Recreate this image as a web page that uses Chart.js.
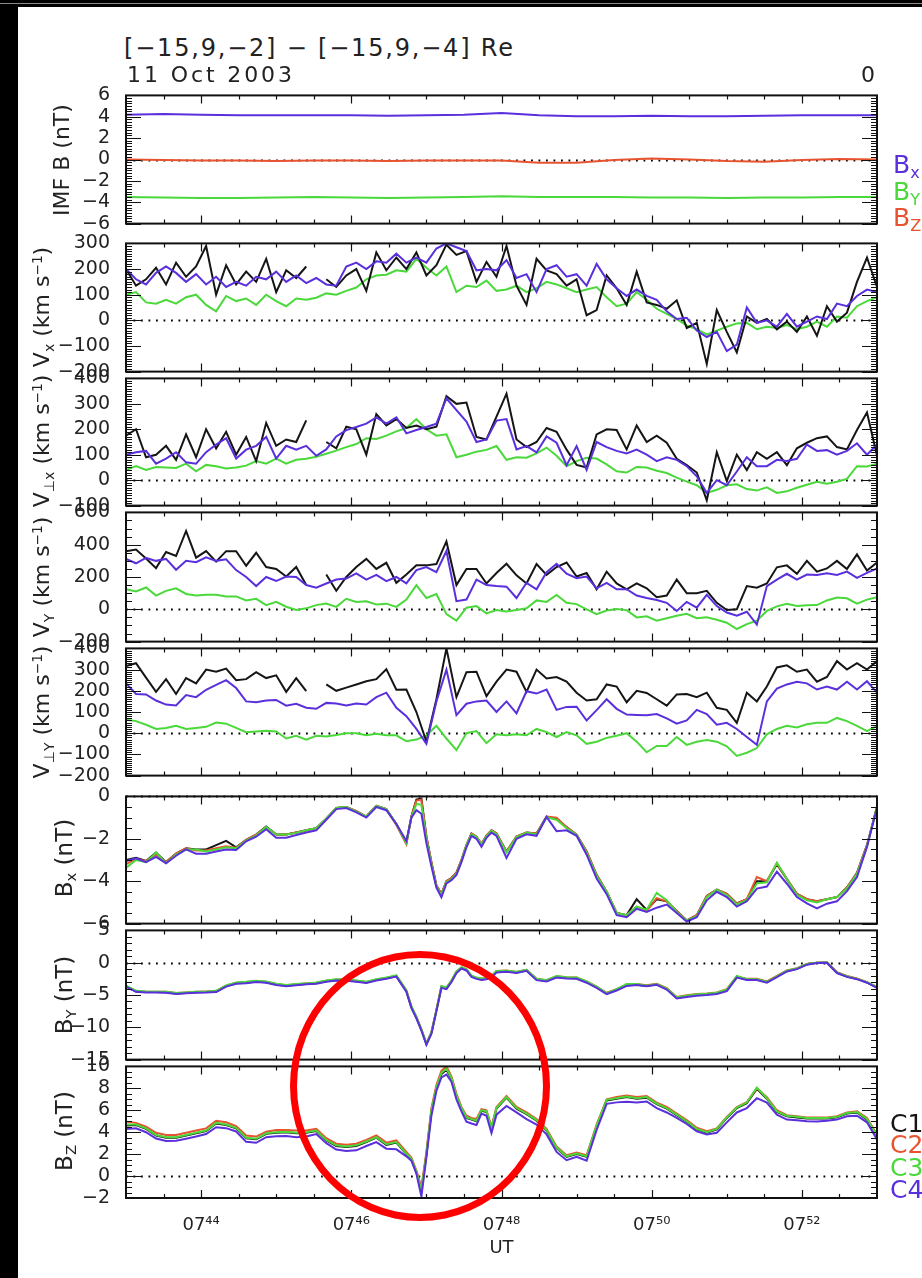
<!DOCTYPE html>
<html>
<head>
<meta charset="utf-8">
<title>Cluster V and B, 11 Oct 2003</title>
<script src="https://cdn.jsdelivr.net/npm/chart.js@4.4.1/dist/chart.umd.min.js"></script>
<style>
html,body{margin:0;padding:0;background:#fff;}
#page{position:relative;width:922px;height:1278px;overflow:hidden;background:#fff;font-family:"DejaVu Sans",sans-serif;color:#222;}
#page canvas{position:absolute;left:0;display:block;z-index:1;}
.t{position:absolute;white-space:nowrap;line-height:1;z-index:5;}
.yt{position:absolute;white-space:nowrap;line-height:1;font-size:22px;color:#222;z-index:5;transform:translate(-50%,-50%) rotate(-90deg);}
.yt sub,.t sub{font-size:64%;vertical-align:-0.32em;line-height:0;}
.yt sup{font-size:62%;vertical-align:0.55em;line-height:0;}
.blk{position:absolute;background:#000;z-index:6;}
#ring{position:absolute;box-sizing:border-box;border:7px solid #ff0000;border-radius:50%;z-index:7;}
</style>
</head>
<body>
<div id="page">
  <div class="blk" style="left:0;top:0;width:922px;height:7px;"></div>
  <div style="position:absolute;left:0;top:3px;width:922px;height:1px;background:#8a8a8a;z-index:7;"></div>
  <div class="blk" style="left:0;top:0;width:18px;height:1278px;"></div>

  <div class="t" style="left:124px;top:36px;font-size:24px;letter-spacing:1.8px;">[−15,9,−2] − [−15,9,−4] Re</div>
  <div class="t" style="left:127px;top:64px;font-size:22px;letter-spacing:2.9px;">11 Oct 2003</div>
  <div class="t" style="left:861px;top:64px;font-size:22px;">0</div>

  <div class="yt" style="left:62px;top:160px;">IMF B (nT)</div>
  <div class="yt" style="left:42px;top:307px;">V<sub>x</sub> (km s<sup>−1</sup>)</div>
  <div class="yt" style="left:42px;top:441px;">V<sub>⊥x</sub> (km s<sup>−1</sup>)</div>
  <div class="yt" style="left:42px;top:577px;">V<sub>Y</sub> (km s<sup>−1</sup>)</div>
  <div class="yt" style="left:42px;top:712px;">V<sub>⊥Y</sub> (km s<sup>−1</sup>)</div>
  <div class="yt" style="left:64px;top:858px;font-size:23px;">B<sub>x</sub> (nT)</div>
  <div class="yt" style="left:64px;top:995px;font-size:23px;">B<sub>Y</sub> (nT)</div>
  <div class="yt" style="left:64px;top:1131px;font-size:23px;">B<sub>Z</sub> (nT)</div>

  <div class="t" style="left:893px;top:152px;font-size:25px;color:#5a2fdc;">B<sub>x</sub></div>
  <div class="t" style="left:893px;top:179px;font-size:25px;color:#4ad83a;">B<sub>Y</sub></div>
  <div class="t" style="left:893px;top:205px;font-size:25px;color:#e8532f;">B<sub>Z</sub></div>

  <div class="t" style="left:890px;top:1111px;font-size:25px;color:#151515;">C1</div>
  <div class="t" style="left:890px;top:1132px;font-size:25px;color:#e8532f;">C2</div>
  <div class="t" style="left:890px;top:1155px;font-size:25px;color:#4ad83a;">C3</div>
  <div class="t" style="left:890px;top:1177px;font-size:25px;color:#5a2fdc;">C4</div>

  <div id="ring" style="left:290px;top:951px;width:260px;height:270px;"></div>
</div>
<script>
// ---------------- time axes (seconds after 07:43:00 UT) ----------------
const tIMF = [0,30,60,90,120,150,180,210,240,270,300,330,360,390,420,450,480,510,540,570,600];
const tV = [0,8,16,24,32,40,48,56,64,72,
  80,88,96,104,112,120,128,136,144,152,
  160,168,176,184,192,200,208,216,224,232,
  240,248,256,264,272,280,288,296,304,312,
  320,328,336,344,352,360,368,376,384,392,
  400,408,416,424,432,440,448,456,464,472,
  480,488,496,504,512,520,528,536,544,552,
  560,568,576,584,592,600];
const tB = [0,8,16,24,32,40,48,56,64,72,80,88,96,104,112,120,128,136,144,152,160,168,176,184,192,200,208,216,224,
  228,232,236,240,244,248,252,256,260,264,268,272,276,280,284,288,292,296,
  304,312,320,328,336,344,352,360,368,376,384,392,400,408,416,424,432,440,448,456,464,472,480,488,496,504,512,520,528,536,544,552,560,568,576,584,592,600];

// ---------------- tick labels ----------------
const xTickSec = [60,180,300,420,540];
const xTickLabels = ['07\u2074\u2074','07\u2074\u2076','07\u2074\u2078','07\u2075\u2070','07\u2075\u00B2'];
const imfTicks = [-6,-4,-2,0,2,4,6];
const vxTicks = [-200,-100,0,100,200,300];
const vpxTicks = [-100,0,100,200,300,400];
const vyTicks = [-200,0,200,400,600];
const vpyTicks = [-200,-100,0,100,200,300,400];
const bxTicks = [-6,-4,-2,0];
const byTicks = [-15,-10,-5,0,5];
const bzTicks = [-2,0,2,4,6,8,10];

// ---------------- IMF B (nT) ----------------
const imfBx = [4.2,4.25,4.2,4.15,4.15,4.15,4.15,4.1,4.15,4.2,4.35,4.15,4.05,4.05,4.1,4.05,4.05,4.1,4.15,4.15,4.15];
const imfBy = [-3.5,-3.55,-3.6,-3.6,-3.55,-3.5,-3.55,-3.6,-3.55,-3.5,-3.45,-3.5,-3.5,-3.5,-3.55,-3.55,-3.6,-3.55,-3.55,-3.5,-3.5];
const imfBz = [0,-0.05,-0.1,-0.1,-0.15,-0.1,-0.1,-0.15,-0.1,-0.1,-0.1,-0.3,-0.3,-0.05,0.1,0,-0.15,-0.2,-0.05,0.05,0];

// ---------------- Vx (km/s) ----------------
const vxBlack = [200,135,160,205,140,225,170,210,290,100,
  215,140,190,150,240,110,195,165,210,null,
  160,130,175,200,115,265,195,245,200,265,
  175,215,295,255,270,150,228,170,290,135,
  60,240,195,180,135,160,20,40,175,125,
  60,190,70,60,45,78,-30,-10,-170,40,
  -45,-125,15,-10,5,-35,-5,-45,15,-60,
  55,-5,30,150,245,130];
const vxPurple = [200,160,140,185,210,185,150,180,140,170,
  130,150,135,170,160,190,150,175,145,165,
  140,135,210,225,200,230,225,260,225,245,
  225,280,300,285,270,195,200,195,235,165,
  180,110,200,215,170,180,135,220,160,125,
  95,120,95,80,35,5,10,-40,-65,-45,
  -120,-95,50,-10,0,-25,25,-25,-5,15,
  5,65,55,95,120,110];
const vxGreen = [100,110,70,65,80,65,90,100,60,35,
  95,75,85,60,100,75,55,85,80,88,
  105,100,115,128,160,175,178,195,190,240,
  205,175,210,110,135,130,155,115,120,135,
  110,125,150,140,125,110,120,130,90,55,
  65,110,80,45,25,5,-20,-35,-55,-40,
  -25,-12,-10,-35,-25,-30,-18,-35,-25,-5,
  -25,15,10,55,75,90];

// ---------------- V perp x (km/s) ----------------
const vpxBlack = [175,200,90,100,135,80,180,90,200,125,
  190,100,170,75,225,135,160,150,235,null,
  150,125,210,200,100,260,215,240,205,215,
  200,210,330,300,305,170,160,250,340,160,
  130,150,205,190,120,60,50,180,200,197,
  121,215,150,175,147,84,59,30,-79,110,
  -4,100,40,110,84,110,59,125,147,165,
  172,130,121,197,266,96];
const vpxPurple = [100,110,115,65,85,110,70,65,110,140,
  165,85,120,135,170,85,135,120,135,96,
  121,172,197,209,222,247,222,247,184,197,
  209,222,322,275,230,150,160,234,240,121,
  134,109,172,147,59,134,40,150,130,115,
  105,120,100,75,90,80,55,15,-50,0,
  -20,34,90,55,55,80,75,84,140,115,
  118,100,115,145,100,140];
const vpxGreen = [40,55,40,52,50,48,65,35,60,55,
  46,50,57,75,65,85,65,80,84,92,
  104,116,130,142,165,162,175,192,205,240,
  200,175,180,90,100,112,119,134,80,90,
  88,105,128,96,55,75,88,85,62,35,
  30,52,50,37,28,10,-6,-20,-50,-38,
  -20,-16,-35,-41,-28,-50,-44,-30,-18,-6,
  -14,-6,5,55,54,65];

// ---------------- Vy (km/s) ----------------
const vyBlack = [360,370,315,255,355,330,485,320,360,295,
  360,360,270,350,262,250,203,262,150,null,
  215,115,200,262,312,250,288,164,215,272,
  272,280,420,150,250,250,160,225,282,210,
  160,280,213,262,290,203,225,124,233,160,
  124,160,130,75,85,184,100,100,114,40,
  -4,0,144,134,160,260,272,220,300,233,
  253,300,250,340,240,290];
const vyPurple = [312,285,318,300,312,245,300,292,322,300,
  310,243,200,144,200,175,203,200,150,134,
  160,184,190,223,184,213,174,200,160,243,
  262,230,361,50,60,184,150,144,140,70,
  164,124,230,282,220,193,203,130,164,124,
  124,85,70,58,40,-10,46,10,90,20,
  -20,-40,-15,-95,144,184,220,184,215,213,
  223,213,233,195,225,253];
const vyGreen = [124,110,135,85,114,130,95,85,90,90,
  80,80,55,65,26,46,16,-4,6,26,
  36,15,65,45,50,30,35,15,60,150,
  70,95,-30,-70,10,20,-25,-4,-14,-4,
  6,55,46,89,40,32,0,-30,-8,2,
  -5,-50,-43,-70,-55,-40,-28,-55,-50,-65,
  -83,-122,-92,-70,-10,18,34,20,25,26,
  55,73,68,35,60,75];

// ---------------- V perp y (km/s) ----------------
const vpyBlack = [317,330,262,195,255,185,260,235,300,290,
  305,250,255,288,260,273,195,260,198,null,
  230,200,215,230,245,255,302,205,206,100,
  -40,160,400,170,288,290,175,243,300,290,
  195,300,258,265,243,191,154,160,230,220,
  146,200,190,160,130,183,185,170,191,120,
  110,49,191,150,220,310,320,290,300,243,
  265,340,300,330,300,340];
const vpyPurple = [235,185,183,154,135,131,180,170,205,228,
  250,213,150,146,154,157,130,139,120,115,
  143,140,131,140,135,170,191,120,80,20,
  -50,150,300,85,139,150,154,100,150,94,
  198,187,206,110,124,125,60,109,160,115,
  88,86,85,90,70,45,60,110,90,40,
  49,20,-18,-55,150,210,230,243,235,206,
  220,206,243,206,245,191];
const vpyGreen = [64,57,40,20,25,35,20,25,30,50,
  45,25,5,8,12,8,-25,-12,-30,-12,
  -16,-8,0,0,-10,-3,-10,-10,-38,-30,
  -10,35,-25,-80,0,10,-47,-5,-10,-5,
  -10,20,5,-18,5,-10,-50,-40,-22,-12,
  0,-40,-90,-60,-60,-18,-55,-40,-32,-40,
  -62,-107,-92,-70,-5,20,35,27,42,49,
  49,72,57,35,10,35];

// ---------------- Bx (nT), C1..C4 ----------------
const bxC1 = [-3.0,-2.9,-3.05,-2.65,-3.1,-2.7,-2.45,-2.5,-2.5,-2.3,-2.1,-2.4,-2.05,-1.8,-1.42,-1.8,-1.8,-1.7,-1.6,-1.5,-1.05,-0.55,-0.5,-0.7,-0.95,-0.45,-0.6,-1.3,-2.2,
  -0.95,-0.15,-0.1,-1.9,-3.1,-4.2,-4.6,-4.0,-3.85,-3.6,-3.0,-2.3,-1.75,-1.9,-2.25,-1.85,-1.6,-1.75,
  -2.6,-1.9,-1.7,-1.75,-0.95,-1.05,-1.45,-1.8,-2.6,-3.7,-4.5,-5.5,-5.6,-4.85,-5.35,-4.85,-4.95,-5.4,-5.85,-5.6,-4.7,-4.4,-4.6,-5.05,-4.85,-4.0,-4.0,-3.2,-3.9,-4.6,-4.85,-4.95,-4.85,-4.75,-4.3,-3.6,-2.3,-0.5];
const bxC2 = [-3.2,-2.95,-3.05,-2.75,-3.1,-2.7,-2.45,-2.55,-2.55,-2.45,-2.35,-2.42,-2.05,-1.8,-1.45,-1.8,-1.8,-1.7,-1.6,-1.5,-1.05,-0.55,-0.5,-0.7,-0.95,-0.45,-0.6,-1.35,-2.25,
  -0.95,-0.2,-0.15,-1.9,-3.1,-4.2,-4.6,-4.0,-3.85,-3.6,-3.0,-2.3,-1.75,-1.9,-2.25,-1.85,-1.6,-1.75,
  -2.6,-1.9,-1.7,-1.75,-0.95,-1.0,-1.45,-1.8,-2.6,-3.7,-4.5,-5.5,-5.6,-5.2,-5.4,-4.8,-4.95,-5.4,-5.85,-5.6,-4.7,-4.4,-4.6,-5.05,-4.85,-3.8,-4.0,-3.15,-3.9,-4.6,-4.85,-4.95,-4.85,-4.75,-4.3,-3.6,-2.3,-0.5];
const bxC3 = [-3.37,-3.0,-3.1,-2.65,-3.15,-2.75,-2.5,-2.5,-2.6,-2.5,-2.4,-2.45,-2.08,-1.85,-1.45,-1.8,-1.8,-1.72,-1.6,-1.5,-1.05,-0.55,-0.5,-0.72,-0.95,-0.45,-0.6,-1.3,-2.2,
  -1.0,-0.35,-0.4,-2.0,-3.2,-4.25,-4.65,-4.05,-3.9,-3.65,-3.05,-2.3,-1.78,-1.92,-2.28,-1.88,-1.62,-1.78,
  -2.65,-1.92,-1.72,-1.78,-0.98,-1.1,-1.5,-1.82,-2.65,-3.75,-4.5,-5.5,-5.6,-5.2,-5.35,-4.55,-4.9,-5.45,-5.85,-5.65,-4.75,-4.4,-4.65,-5.1,-4.9,-4.1,-4.05,-3.13,-3.9,-4.65,-4.9,-5.0,-4.85,-4.75,-4.35,-3.65,-2.35,-0.45];
const bxC4 = [-3.05,-2.92,-3.1,-2.85,-3.15,-2.8,-2.5,-2.7,-2.7,-2.6,-2.5,-2.53,-2.12,-1.9,-1.55,-1.95,-1.95,-1.82,-1.7,-1.6,-1.1,-0.6,-0.55,-0.75,-1.0,-0.5,-0.65,-1.3,-2.1,
  -1.0,-0.65,-0.82,-2.2,-3.3,-4.3,-4.76,-4.1,-3.95,-3.7,-3.1,-2.4,-1.86,-2.0,-2.38,-1.95,-1.71,-1.86,
  -2.9,-2.0,-1.79,-1.86,-0.97,-1.64,-1.6,-1.86,-2.75,-3.87,-4.61,-5.6,-5.7,-5.3,-5.45,-5.25,-5.1,-5.5,-5.9,-5.7,-4.9,-4.5,-4.75,-5.2,-4.95,-4.35,-4.25,-3.55,-4.12,-4.75,-5.05,-5.28,-5.06,-4.95,-4.47,-3.8,-2.38,-0.52];

// ---------------- By (nT), C1..C4 ----------------
const byC1 = [-3.65,-4.45,-4.55,-4.55,-4.58,-4.78,-4.68,-4.58,-4.55,-4.48,-3.62,-3.18,-3.1,-2.92,-3.02,-3.38,-3.58,-3.42,-3.28,-3.18,-2.88,-2.68,-2.72,-2.88,-3.08,-2.68,-2.42,-2.08,-4.4,
  -6.9,-8.5,-10.4,-12.6,-10.9,-7.4,-3.8,-4.0,-2.9,-1.5,-0.85,-1.1,-2.1,-2.4,-2.6,-2.45,-2.2,-1.4,
  -1.3,-1.5,-1.2,-2.6,-2.8,-2.2,-2.35,-2.4,-3.0,-3.8,-4.75,-4.2,-3.5,-3.4,-3.6,-3.35,-4.05,-5.45,-5.2,-5.0,-4.9,-4.75,-4.3,-2.2,-2.6,-2.6,-3.0,-2.15,-1.3,-0.95,-0.25,0.0,0.0,-1.55,-2.15,-2.5,-3.05,-3.85];
const byC2 = [-3.6,-4.4,-4.5,-4.5,-4.5,-4.7,-4.6,-4.5,-4.45,-4.4,-3.55,-3.1,-3.0,-2.85,-2.95,-3.3,-3.5,-3.35,-3.2,-3.1,-2.8,-2.6,-2.65,-2.8,-3.0,-2.6,-2.35,-2.0,-4.3,
  -6.8,-8.4,-10.3,-12.5,-10.8,-7.3,-3.7,-3.9,-2.8,-1.4,-0.75,-1.05,-2.05,-2.35,-2.5,-2.4,-2.1,-1.3,
  -1.2,-1.45,-1.1,-2.5,-2.7,-2.1,-2.25,-2.3,-2.9,-3.7,-4.65,-4.1,-3.4,-3.3,-3.5,-3.25,-3.95,-5.3,-5.05,-4.85,-4.75,-4.6,-4.1,-2.1,-2.5,-2.5,-2.9,-2.05,-1.2,-0.85,-0.2,0.0,0.05,-1.45,-2.05,-2.45,-3.0,-3.8];
const byC3 = [-3.55,-4.35,-4.45,-4.5,-4.5,-4.7,-4.6,-4.5,-4.45,-4.35,-3.5,-3.05,-2.95,-2.8,-2.9,-3.25,-3.45,-3.3,-3.2,-3.05,-2.75,-2.55,-2.6,-2.75,-2.95,-2.55,-2.3,-1.95,-4.25,
  -6.75,-8.35,-10.3,-12.5,-10.8,-7.3,-3.6,-3.85,-2.75,-1.35,-0.7,-1.0,-2.0,-2.3,-2.45,-2.35,-2.05,-1.3,
  -1.25,-1.4,-1.1,-2.5,-2.7,-2.05,-2.25,-2.3,-2.9,-3.7,-4.7,-4.1,-3.3,-3.3,-3.55,-3.3,-4.0,-5.35,-5.1,-4.9,-4.8,-4.65,-4.15,-2.05,-2.55,-2.55,-2.95,-2.1,-1.25,-0.9,-0.2,0.0,0.05,-1.5,-2.1,-2.5,-3.0,-3.75];
const byC4 = [-3.7,-4.5,-4.6,-4.62,-4.64,-4.85,-4.74,-4.65,-4.62,-4.55,-3.7,-3.25,-3.17,-3.0,-3.1,-3.45,-3.65,-3.5,-3.35,-3.25,-2.95,-2.75,-2.8,-2.95,-3.15,-2.75,-2.5,-2.15,-4.5,
  -7.0,-8.6,-10.5,-12.7,-11.0,-7.5,-3.9,-4.1,-3.0,-1.6,-0.9,-1.2,-2.2,-2.5,-2.68,-2.55,-2.3,-1.5,
  -1.4,-1.6,-1.25,-2.7,-2.9,-2.3,-2.45,-2.5,-3.1,-3.9,-4.85,-4.3,-3.6,-3.45,-3.66,-3.42,-4.15,-5.55,-5.3,-5.1,-5.0,-4.85,-4.4,-2.3,-2.68,-2.68,-3.1,-2.25,-1.35,-1.0,-0.3,-0.05,0.0,-1.6,-2.2,-2.55,-3.1,-3.9];

// ---------------- Bz (nT), C1..C4 ----------------
const bzC1 = [4.6,4.65,4.3,3.7,3.5,3.5,3.7,3.9,4.1,4.8,4.65,4.35,3.45,3.35,3.85,3.95,4.0,3.9,3.95,4.1,3.25,2.75,2.65,2.75,3.1,3.5,2.85,3.05,2.0,
  1.55,0.35,-1.4,1.95,5.95,8.0,9.3,9.7,8.9,7.3,6.15,5.3,5.15,5.0,5.95,5.85,4.35,6.15,
  7.15,6.15,5.65,5.05,4.15,2.55,1.75,2.0,1.75,4.55,6.9,7.05,7.2,7.05,7.15,6.55,6.15,5.55,4.95,4.25,3.95,4.25,5.3,6.2,6.65,7.95,7.05,5.85,5.45,5.35,5.25,5.25,5.25,5.35,5.7,5.8,5.15,3.65];
const bzC2 = [4.95,4.85,4.5,3.95,3.75,3.75,3.95,4.15,4.35,5.05,4.9,4.55,3.7,3.6,4.05,4.2,4.2,4.15,4.15,4.3,3.45,2.95,2.85,2.95,3.3,3.7,3.05,3.25,2.2,
  1.7,0.5,-1.0,2.2,6.2,8.3,9.6,10.0,9.1,7.5,6.3,5.5,5.3,5.2,6.1,6.0,4.5,6.3,
  7.3,6.3,5.8,5.2,4.3,2.7,1.9,2.15,1.9,4.7,7.0,7.2,7.35,7.2,7.3,6.7,6.3,5.7,5.1,4.4,4.1,4.35,5.4,6.3,6.75,8.0,7.2,6.0,5.55,5.45,5.35,5.35,5.35,5.45,5.8,5.9,5.3,3.8];
const bzC3 = [4.7,4.7,4.35,3.75,3.55,3.55,3.75,3.95,4.15,4.85,4.7,4.4,3.5,3.4,3.9,4.0,4.05,3.95,4.0,4.15,3.3,2.8,2.7,2.8,3.15,3.55,2.9,3.1,2.05,
  1.6,0.4,-1.3,2.0,6.0,8.1,9.4,9.8,8.95,7.35,6.2,5.35,5.2,5.05,6.0,5.9,4.4,6.2,
  7.2,6.2,5.7,5.1,4.2,2.6,1.8,2.05,1.8,4.6,6.95,7.1,7.25,7.1,7.2,6.6,6.2,5.6,5.0,4.3,4.0,4.3,5.35,6.25,6.7,8.07,7.1,5.9,5.5,5.4,5.3,5.3,5.3,5.4,5.75,5.85,5.2,3.7];
const bzC4 = [4.3,4.35,4.0,3.42,3.2,3.22,3.4,3.6,3.83,4.45,4.37,4.07,3.12,3.03,3.54,3.63,3.65,3.55,3.6,3.83,3.0,2.42,2.29,2.35,2.74,3.1,2.5,2.44,1.8,
  1.4,0.22,-1.86,1.7,5.5,7.77,9.0,9.26,8.6,7.0,5.9,4.96,4.8,4.66,5.7,5.5,3.92,5.6,
  6.4,5.8,5.2,4.7,3.8,2.2,1.45,1.75,1.4,4.2,6.59,6.72,6.78,6.7,6.8,6.2,5.8,5.3,4.75,4.07,3.8,3.95,4.9,5.8,6.2,7.1,6.7,5.6,5.15,5.1,5.0,4.98,5.05,5.15,5.45,5.5,4.9,3.33];

// ---------------- drawing ----------------
Chart.defaults.font.family = "'DejaVu Sans', sans-serif";
Chart.defaults.color = '#222';

const COL = {black:'#151515', purple:'#5a2fdc', green:'#4ad83a', red:'#e8532f'};
const PAD = 16;
const XAXIS_H = 75;

function fmtNum(v) { return v < 0 ? '\u2212' + Math.abs(v) : String(v); }

const frameTicks = {
  id: 'frameTicks',
  beforeDatasetsDraw(chart, args, o) {
    const {ctx, chartArea: a, scales: {y}} = chart;
    const py = Math.round(y.getPixelForValue(0)) + 0.5;
    ctx.save();
    ctx.strokeStyle = '#000';
    ctx.lineWidth = 1.8;
    ctx.setLineDash([1.8, 5.7]);
    ctx.beginPath(); ctx.moveTo(a.left, py); ctx.lineTo(a.right, py); ctx.stroke();
    ctx.restore();
  },
  afterDatasetsDraw(chart, args, o) {
    const {ctx, chartArea: a, scales: {x, y}} = chart;
    ctx.save();
    ctx.strokeStyle = '#111';
    ctx.lineWidth = 1.2;
    ctx.beginPath();
    const n = Math.round((y.max - y.min) / o.minor);
    for (let i = 0; i <= n; i++) {
      const v = y.min + i * o.minor;
      const r = v / o.major;
      const len = Math.abs(r - Math.round(r)) < 1e-6 ? 15 : 6;
      const py = Math.round(y.getPixelForValue(v)) + 0.5;
      ctx.moveTo(a.left, py); ctx.lineTo(a.left + len, py);
      ctx.moveTo(a.right, py); ctx.lineTo(a.right - len, py);
    }
    for (let s = 30; s < 600; s += 30) {
      const len = ((s - 60) % 120 === 0) ? 8 : 4;
      const px = Math.round(x.getPixelForValue(s)) + 0.5;
      ctx.moveTo(px, a.top); ctx.lineTo(px, a.top + len);
      ctx.moveTo(px, a.bottom); ctx.lineTo(px, a.bottom - len);
    }
    ctx.stroke();
    ctx.setLineDash([]);
    ctx.lineWidth = 2;
    ctx.strokeRect(a.left, a.top, a.right - a.left, a.bottom - a.top);
    ctx.restore();
  }
};

const panels = [
  {top:92, h:135, min:-6, max:6, major:2, minor:0.25, ticks:imfTicks, series:[
    {t:tIMF, v:imfBx, c:COL.purple, o:0}, {t:tIMF, v:imfBy, c:COL.green, o:1}, {t:tIMF, v:imfBz, c:COL.red, o:2}]},
  {top:240, h:135, min:-200, max:300, major:100, minor:10, ticks:vxTicks, series:[
    {t:tV, v:vxPurple, c:COL.purple, o:0}, {t:tV, v:vxBlack, c:COL.black, o:1}, {t:tV, v:vxGreen, c:COL.green, o:2}]},
  {top:375, h:134, min:-100, max:400, major:100, minor:10, ticks:vpxTicks, series:[
    {t:tV, v:vpxPurple, c:COL.purple, o:0}, {t:tV, v:vpxBlack, c:COL.black, o:1}, {t:tV, v:vpxGreen, c:COL.green, o:2}]},
  {top:509, h:136, min:-200, max:600, major:200, minor:50, ticks:vyTicks, series:[
    {t:tV, v:vyPurple, c:COL.purple, o:0}, {t:tV, v:vyBlack, c:COL.black, o:1}, {t:tV, v:vyGreen, c:COL.green, o:2}]},
  {top:645, h:134, min:-200, max:400, major:100, minor:10, ticks:vpyTicks, series:[
    {t:tV, v:vpyPurple, c:COL.purple, o:0}, {t:tV, v:vpyBlack, c:COL.black, o:1}, {t:tV, v:vpyGreen, c:COL.green, o:2}]},
  {top:793, h:134, min:-6, max:0, major:2, minor:0.5, ticks:bxTicks, series:[
    {t:tB, v:bxC4, c:COL.purple, o:0}, {t:tB, v:bxC3, c:COL.green, o:1}, {t:tB, v:bxC2, c:COL.red, o:2}, {t:tB, v:bxC1, c:COL.black, o:3}]},
  {top:927, h:136, min:-15, max:5, major:5, minor:1, ticks:byTicks, series:[
    {t:tB, v:byC4, c:COL.purple, o:0}, {t:tB, v:byC3, c:COL.green, o:1}, {t:tB, v:byC2, c:COL.red, o:2}, {t:tB, v:byC1, c:COL.black, o:3}]},
  {top:1063, h:135, min:-2, max:10, major:2, minor:0.5, ticks:bzTicks, showX:true, series:[
    {t:tB, v:bzC4, c:COL.purple, o:0}, {t:tB, v:bzC3, c:COL.green, o:1}, {t:tB, v:bzC2, c:COL.red, o:2}, {t:tB, v:bzC1, c:COL.black, o:3}]}
];

const page = document.getElementById('page');
const firstOverlay = page.querySelector('.t');

panels.forEach(p => {
  const cv = document.createElement('canvas');
  const H = PAD + p.h + (p.showX ? XAXIS_H : PAD);
  cv.width = 922; cv.height = H;
  cv.style.width = '922px'; cv.style.height = H + 'px';
  cv.style.top = (p.top - PAD) + 'px';
  page.insertBefore(cv, firstOverlay);

  const xScale = {
    type: 'linear', min: 0, max: 600, display: !!p.showX,
    grid: {display: false}, border: {display: false},
    afterBuildTicks: s => { s.ticks = xTickSec.map(v => ({value: v})); },
    ticks: {callback: (v, i) => xTickLabels[i], font: {size: 18}, color: '#222', padding: 9, maxRotation: 0, autoSkip: false},
    title: {display: !!p.showX, text: 'UT', font: {size: 18}, color: '#222', padding: {top: 0, bottom: 14}}
  };
  if (p.showX) xScale.afterFit = s => { s.height = XAXIS_H; };

  new Chart(cv, {
    type: 'line',
    data: {
      datasets: p.series.map(s => ({
        data: s.t.map((t, i) => ({x: t, y: s.v[i]})),
        borderColor: s.c, borderWidth: 2, pointRadius: 0, tension: 0,
        spanGaps: false, fill: false, order: s.o
      }))
    },
    options: {
      responsive: false, animation: false, devicePixelRatio: 1,
      layout: {padding: {left: 0, right: 45, top: PAD, bottom: p.showX ? 0 : PAD}},
      plugins: {legend: {display: false}, tooltip: {enabled: false},
                frameTicks: {major: p.major, minor: p.minor}},
      scales: {
        x: xScale,
        y: {
          min: p.min, max: p.max,
          grid: {display: false}, border: {display: false},
          afterFit: s => { s.width = 126; },
          afterBuildTicks: s => { s.ticks = p.ticks.map(v => ({value: v})); },
          ticks: {callback: v => fmtNum(v), font: {size: 19}, color: '#222', padding: 8, autoSkip: false}
        }
      }
    },
    plugins: [frameTicks]
  });
});
</script>
</body>
</html>
